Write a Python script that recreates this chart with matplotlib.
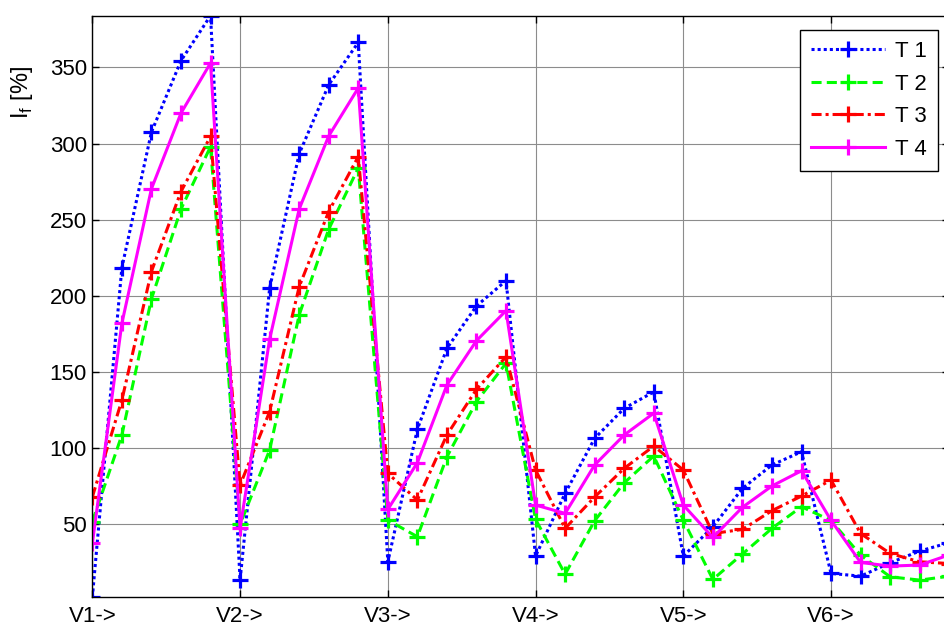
import matplotlib.pyplot as plt
import numpy as np

# Values, 5 samples per stage V1..V6
t1 = [2, 218.6, 307.5, 354.4, 384, 13.4, 205, 293.3, 338.6, 366.4,
      25.4, 112.4, 165.6, 193.4, 210, 29.2, 70.4, 106.5, 126.2, 137,
      29.2, 48.4, 73.6, 89, 97.7, 17.8, 16, 24.8, 32.5, 38]
t2 = [51.7, 108.7, 198, 257, 298, 50, 98.8, 187.5, 243.8, 284,
      52.8, 41.9, 94.4, 130.6, 155.8, 53.3, 17.3, 52.4, 77.3, 94.9,
      52.8, 13.9, 30.5, 47.4, 61.6, 52.5, 29.8, 15.6, 13.4, 16]
t3 = [68, 131.6, 216, 268.5, 304.7, 75.8, 124, 206, 255.4, 291.5,
      83.5, 66, 108.7, 138.7, 160, 85.7, 47.4, 68, 86.8, 101.4,
      85.7, 44, 46.7, 59, 68.6, 79.1, 44, 30.9, 25.4, 24.3]
t4 = [37.5, 182, 270.3, 320, 352.9, 47.4, 171.5, 257, 305, 336.5,
      59.8, 90.5, 141.5, 170.6, 190.3, 62.7, 57.2, 89, 108.7, 123,
      62.7, 41.4, 61.2, 75.2, 85.2, 52.6, 25, 22.6, 23.3, 30]
series_names = ['T 1', 'T 2', 'T 3', 'T 4']
stage_labels = ['V1->', 'V2->', 'V3->', 'V4->', 'V5->', 'V6->']
y_ticks = [50, 100, 150, 200, 250, 300, 350]

plt.rcParams['font.family'] = ['Liberation Sans', 'DejaVu Sans']
plt.rcParams['mathtext.fontset'] = 'custom'
plt.rcParams['mathtext.rm'] = 'Liberation Sans'

fig = plt.figure(figsize=(9.45, 6.29), dpi=100)
# axes run a little past the right edge of the figure, like the cropped original
ax = fig.add_axes([0.0977, 0.0501, 0.9068, 0.925])

x = np.arange(len(t1))
styles = [('#0000ff', (0, (1, 1))),
          ('#00ff00', (0, (3.3, 1.7))),
          ('#ff0000', (0, (3.3, 1.3, 1, 1.3))),
          ('#ff00ff', '-')]
for data, name, (col, ls) in zip([t1, t2, t3, t4], series_names, styles):
    ax.plot(x, data, color=col, linestyle=ls, linewidth=2.2,
            marker='+', markersize=12, markeredgewidth=2.3, label=name)

# tight axis like MATLAB "axis tight"
all_vals = t1 + t2 + t3 + t4
ax.set_xlim(0, len(t1) - 1)
ax.set_ylim(min(all_vals), max(all_vals))

ax.set_xticks(np.arange(0, len(t1), 5))
ax.set_xticklabels(stage_labels)
ax.set_yticks(y_ticks)
ax.tick_params(direction='in', length=5, width=1, top=True, right=True,
               labelsize=16)
ax.tick_params(axis='x', pad=6)
ax.tick_params(axis='y', pad=4)
ax.grid(True, color='0.55', linewidth=0.8)
for sp in ax.spines.values():
    sp.set_linewidth(1)

fig.text(22 / 945, 1 - 92 / 629, r'I$_\mathregular{f}$ [%]', rotation=90,
         ha='center', va='center', fontsize=17)

leg = ax.legend(loc='upper right', bbox_to_anchor=(0.9866, 0.9754),
                borderaxespad=0, fontsize=16, fancybox=False, framealpha=1,
                edgecolor='black', handlelength=3.3, handletextpad=0.45,
                labelspacing=0.52, borderpad=0.5)
leg.get_frame().set_linewidth(1)

plt.savefig('out.png', dpi=100)
